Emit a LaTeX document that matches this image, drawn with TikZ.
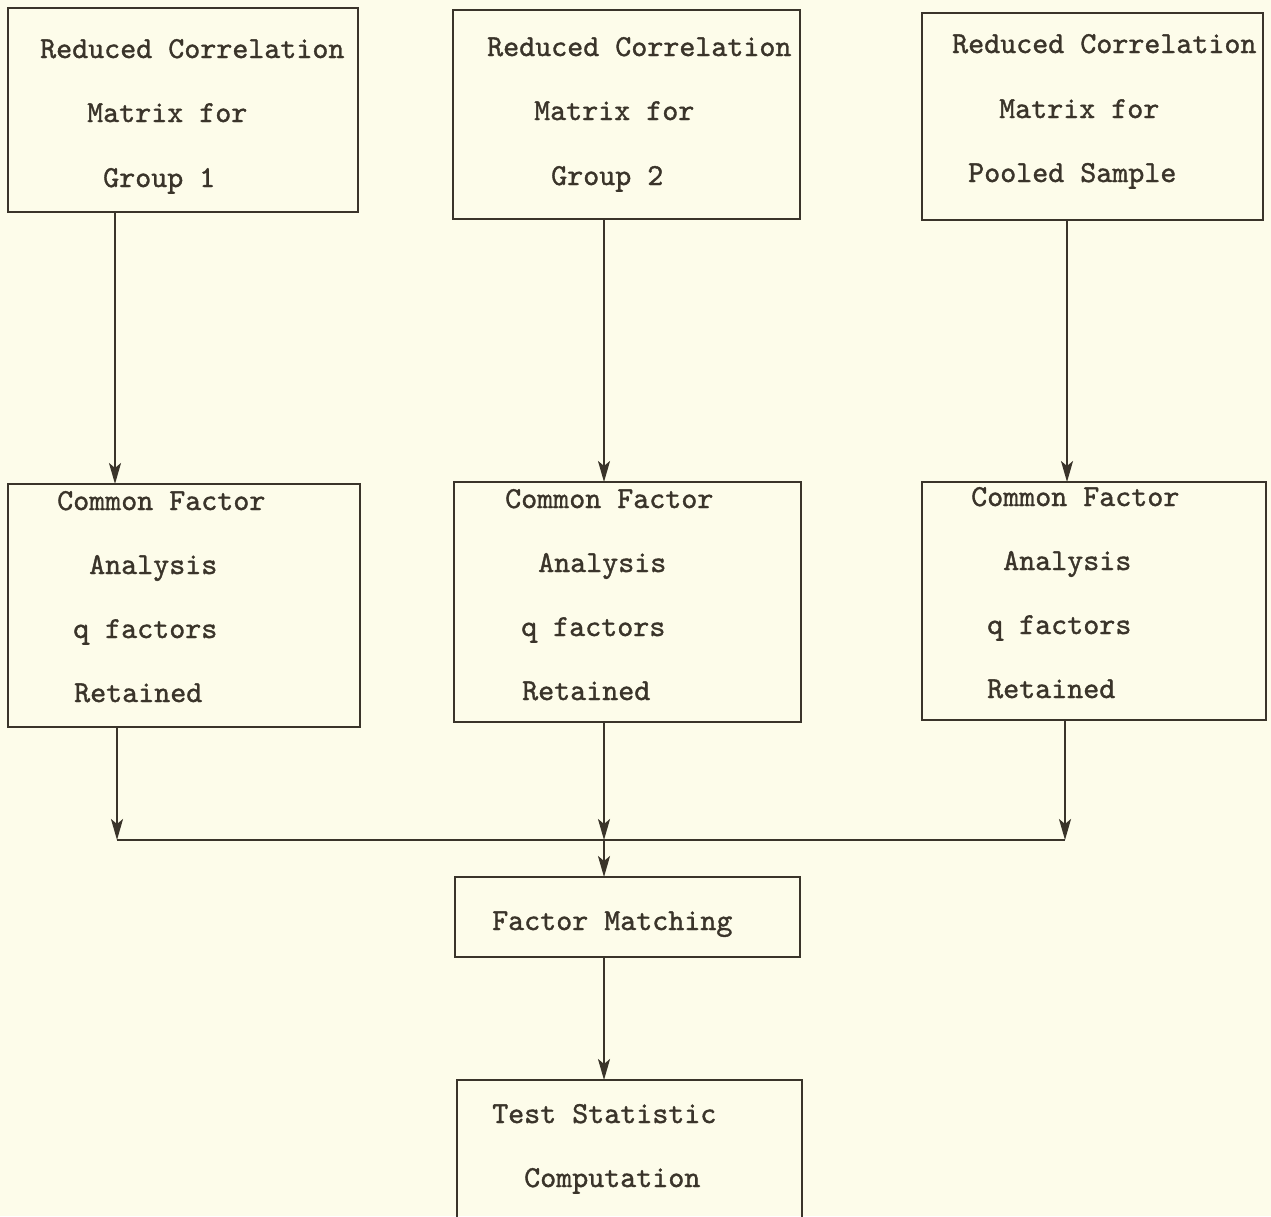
\documentclass[tikz,border=0pt]{standalone}
\usepackage{fontspec}
\newfontfamily\typew{lmmono10-regular.otf}[FakeBold=1.2]
\usetikzlibrary{arrows.meta}
\definecolor{paper}{RGB}{253,252,234}
\definecolor{ink}{RGB}{58,52,42}
\begin{document}
\begin{tikzpicture}[x=1pt,y=-1pt,
  box/.style={draw=ink, line width=2.4pt, inner sep=0pt, outer sep=0pt},
  txt/.style={text=ink, inner sep=0pt, anchor=base west, font=\fontsize{30.5}{36}\selectfont\typew},
  arr/.style={draw=ink, line width=2pt, -{Stealth[length=21pt,width=12pt,inset=5pt]}},
  ln/.style={draw=ink, line width=2pt}]
\fill[paper] (0,0) rectangle (1271,1216);
\useasboundingbox (0,0) rectangle (1271,1216);
\clip (0,0) rectangle (1271,1216);
% boxes
\node[box, minimum width=350pt, minimum height=204pt] (tl) at (183,110) {};
\node[box, minimum width=347pt, minimum height=209pt] (tm) at (626.5,114.5) {};
\node[box, minimum width=341pt, minimum height=207pt] (tr) at (1092.5,116.5) {};
\node[box, minimum width=352pt, minimum height=243pt] (ml) at (184,605.5) {};
\node[box, minimum width=347pt, minimum height=240pt] (mm) at (627.5,602) {};
\node[box, minimum width=344pt, minimum height=238pt] (mr) at (1094,601) {};
\node[box, minimum width=345pt, minimum height=80pt] (fm) at (627.5,917) {};
\node[box, minimum width=345pt, minimum height=180pt] (ts) at (629.5,1170) {};
% texts
\node[txt] (tl1) at (40,58) {Reduced Correlation};
\node[txt] (tl2) at (87,122) {Matrix for};
\node[txt] (tl3) at (103,187) {Group 1};
\node[txt] (tm1) at (487,56) {Reduced Correlation};
\node[txt] (tm2) at (534,120) {Matrix for};
\node[txt] (tm3) at (551,185) {Group 2};
\node[txt] (tr1) at (952,53) {Reduced Correlation};
\node[txt] (tr2) at (999,118) {Matrix for};
\node[txt] (tr3) at (968,182) {Pooled Sample};
\node[txt] (ml1) at (57,510) {Common Factor};
\node[txt] (ml2) at (89,574) {Analysis};
\node[txt] (ml3) at (73,638) {q factors};
\node[txt] (ml4) at (74,702) {Retained};
\node[txt] (mm1) at (505,508) {Common Factor};
\node[txt] (mm2) at (538,572) {Analysis};
\node[txt] (mm3) at (521,636) {q factors};
\node[txt] (mm4) at (522,700) {Retained};
\node[txt] (mr1) at (971,506) {Common Factor};
\node[txt] (mr2) at (1003,570) {Analysis};
\node[txt] (mr3) at (987,634) {q factors};
\node[txt] (mr4) at (987,698) {Retained};
\node[txt] (fm1) at (492,930) {Factor Matching};
\node[txt] (ts1) at (492,1123) {Test Statistic};
\node[txt] (ts2) at (524,1187) {Computation};
% connector columns
\coordinate (c1) at (115,0);
\coordinate (c2) at (604,0);
\coordinate (c3) at (1067,0);
\coordinate (j1) at (117,840);
\coordinate (j2) at (604,840);
\coordinate (j3) at (1065,840);
\draw[arr] (tl.south -| c1) -- (ml.north -| c1);
\draw[arr] (tm.south -| c2) -- (mm.north -| c2);
\draw[arr] (tr.south -| c3) -- (mr.north -| c3);
\draw[arr] (ml.south -| j1) -- (j1);
\draw[arr] (mm.south -| j2) -- (j2);
\draw[arr] (mr.south -| j3) -- (j3);
\draw[ln] (j1) -- (j3);
\draw[arr] (j2) -- (fm.north -| j2);
\draw[arr] (fm.south -| j2) -- (ts.north -| j2);
\end{tikzpicture}
\end{document}
